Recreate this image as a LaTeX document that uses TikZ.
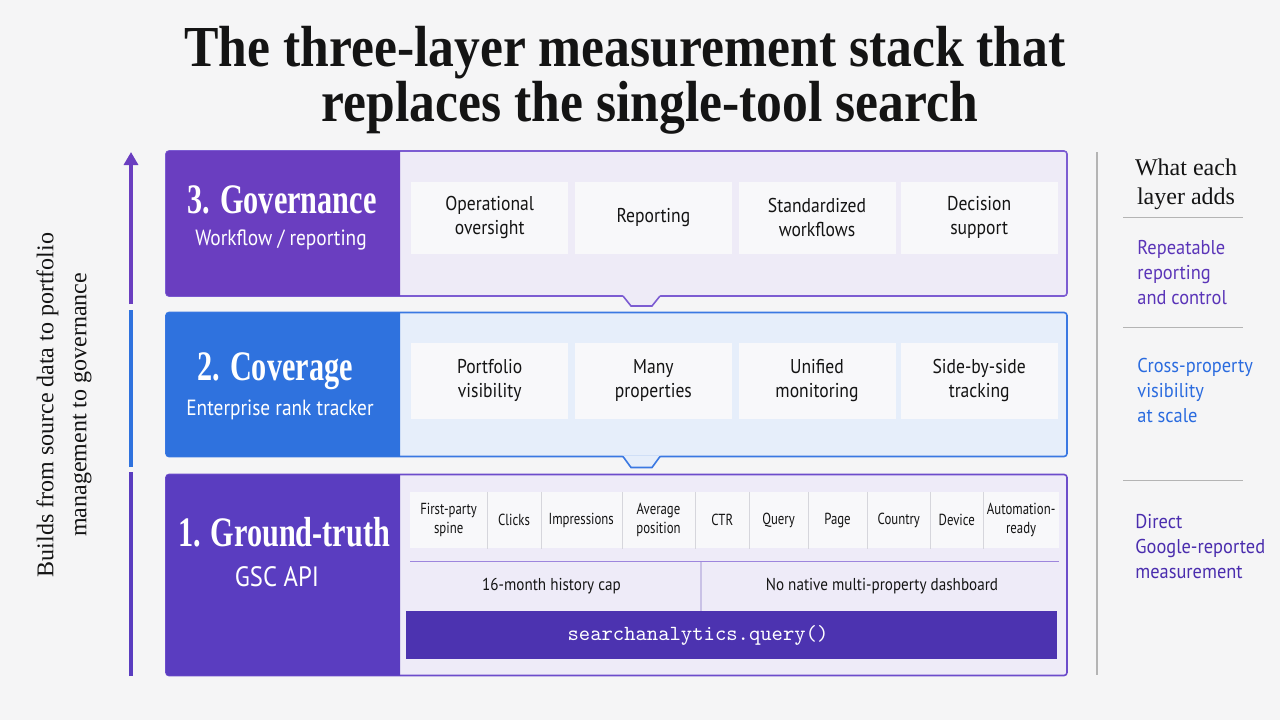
\documentclass[tikz,border=0pt]{standalone}
\usepackage{fontspec}
\setmainfont{Liberation Serif}
\newfontfamily\titlefont[FakeStretch=0.89]{Liberation Serif}
\newfontfamily\headfont[FakeStretch=0.72]{Liberation Serif}
\newfontfamily\uifont[FakeStretch=0.88]{PT Sans}
\newfontfamily\sideuifont[FakeStretch=0.92]{PT Sans}
\newfontfamily\cellfont[FakeStretch=0.8]{PT Sans}
\usetikzlibrary{arrows.meta,positioning,calc}

\definecolor{pagebg}{HTML}{F5F5F6}
\definecolor{inkcol}{HTML}{141414}
\definecolor{govcol}{HTML}{6A3EC0}
\definecolor{govbg}{HTML}{EEEBF7}
\definecolor{govline}{HTML}{7C5CD2}
\definecolor{covcol}{HTML}{2F72DE}
\definecolor{covbg}{HTML}{E6EEFA}
\definecolor{covline}{HTML}{3A78E2}
\definecolor{gtcol}{HTML}{5A3DC0}
\definecolor{gtbg}{HTML}{EEEBF8}
\definecolor{gtline}{HTML}{6C4CCB}
\definecolor{barcol}{HTML}{4C33B0}
\definecolor{cardbg}{HTML}{F8F8FA}
\definecolor{cellline}{HTML}{D6D6DC}
\definecolor{divline}{HTML}{C9C1E6}
\definecolor{sidegrey}{HTML}{B4B4B4}
\definecolor{addpurple}{HTML}{5A34B8}
\definecolor{addblue}{HTML}{2A6BDF}
\definecolor{addindigo}{HTML}{4A2DAE}

\tikzset{
  titletxt/.style={font=\titlefont\bfseries\fontsize{29}{34}\selectfont, text=inkcol, anchor=base, inner sep=0pt},
  headtxt/.style={font=\headfont\bfseries\fontsize{21}{24}\selectfont, text=white, anchor=base, inner sep=0pt},
  subtxt/.style={font=\uifont\fontsize{11}{13}\selectfont, text=white, anchor=base, inner sep=0pt},
  card/.style={fill=cardbg, inner sep=0pt, minimum width=78.5pt, align=center, text=inkcol, font=\uifont\fontsize{10}{12}\selectfont},
  cell/.style={fill=cardbg, inner sep=0pt, minimum height=28pt, align=center, text=inkcol, font=\cellfont\fontsize{8}{9.5}\selectfont},
  note/.style={font=\uifont\fontsize{8.6}{11}\selectfont, text=inkcol},
  addtxt/.style={font=\sideuifont\fontsize{10}{12.5}\selectfont, align=left, anchor=west, inner sep=0pt},
  sepline/.style={sidegrey, line width=0.6pt},
}

\begin{document}
\begin{tikzpicture}[x=0.5pt,y=-0.5pt]
\fill[pagebg] (0,0) rectangle (1280,720);
\useasboundingbox (0,0) rectangle (1280,720);

\node[titletxt] (title1) at (625,66) {The three-layer measurement stack that};
\node[titletxt] (title2) at (650,121) {replaces the single-tool search};

% the three layers
\foreach \yt/\yb/\hd/\bg/\ln in {151/296/govcol/govbg/govline, 312.5/456.5/covcol/covbg/covline, 474.5/675.5/gtcol/gtbg/gtline}{
  \fill[\bg, rounded corners=1.5pt] (166,\yt) rectangle (1067,\yb);
  \draw[\ln, line width=0.8pt, rounded corners=1.5pt] (166,\yt) rectangle (1067,\yb);
  \begin{scope}
    \clip (160,\yt-5) rectangle (400,\yb+5);
    \fill[\hd, rounded corners=1.5pt] (166,\yt) rectangle (410,\yb);
  \end{scope}
}

\fill[govbg] (622.5,294.8) -- (631,305.5) -- (652,305.5) -- (660.5,294.8) -- cycle;
\draw[govline, line width=0.8pt] (623,296) -- (631,306) -- (652,306) -- (660,296);
\fill[covbg] (622.5,455.3) -- (631,467) -- (652,467) -- (660.5,455.3) -- cycle;
\draw[covline, line width=0.8pt] (623,456.5) -- (631,467.5) -- (652,467.5) -- (660,456.5);

\node[headtxt] (govhd) at (282,213) {3. Governance};
\node[subtxt] (govsub) at (281,245) {Workflow / reporting};
\node[headtxt] (covhd) at (275,380) {2. Coverage};
\node[subtxt] (covsub) at (280,415.7) {Enterprise rank tracker};
\node[headtxt] (gthd) at (284,546.7) {1. Ground-truth};
\node[subtxt, font=\uifont\fontsize{14}{16}\selectfont] (gtsub) at (277,586.7) {GSC API};

\foreach \x/\t [count=\i] in {489.7/{Operational\\oversight}, 653.4/Reporting, 817/{Standardized\\workflows}, 979.2/{Decision\\support}}
  \node[card, minimum height=36pt] (gov\i) at (\x,217.8) {\t};
\foreach \x/\t [count=\i] in {489.7/{Portfolio\\visibility}, 653.4/{Many\\properties}, 817/{Unified\\monitoring}, 979.2/{Side-by-side\\tracking}}
  \node[card, minimum height=38pt] (cov\i) at (\x,380.7) {\t};

\foreach \l/\r/\t [count=\i] in {410/487.3/{First-party\\spine}, 487.3/540.7/Clicks, 540.7/621.7/Impressions, 621.7/695.3/{Average\\position}, 695.3/749.3/CTR, 749.3/807.7/Query, 807.7/867.3/Page, 867.3/930.3/Country, 930.3/983.3/Device, 983.3/1059/{Automation-\\ready}}
  \node[cell, minimum width={(\r-\l)/2*1pt}] (m\i) at ({(\l+\r)/2},520.3) {\t};
\foreach \i in {1,...,9}
  \draw[cellline, line width=0.5pt] (m\i.north east) -- (m\i.south east);

\draw[govline!75, line width=0.6pt] (410,561.7) -- (1059,561.7);
\draw[divline, line width=0.6pt] (701,561.7) -- (701,611);
\node[note] (histcap) at (551.5,586) {16-month history cap};
\node[note] (nodash) at (882,586) {No native multi-property dashboard};

\node[fill=barcol, inner sep=0pt, minimum width=325.6pt, minimum height=24pt] (apibar) at (731.6,635) {};
\node[font=\ttfamily\fontsize{10.8}{12}\selectfont, text=white] (apitxt) at (698,635) {searchanalytics.query()};

% build-up arrow
\coordinate (ax1) at (131,676);
\coordinate (ax2) at (131,472);
\coordinate (bx1) at (131,467);
\coordinate (bx2) at (131,310);
\coordinate (cx1) at (131,304);
\coordinate (tip) at (131,152);
\draw[gtcol, line width=1.6pt] (ax1) -- (ax2);
\draw[covcol, line width=1.6pt] (bx1) -- (bx2);
\draw[govcol, line width=1.6pt, -{Triangle[length=6.5pt,width=7pt]}] (cx1) -- (tip);
\node[rotate=90, align=center, font=\fontsize{12}{16.5}\selectfont, text=inkcol] (buildlbl) at (64,405) {Builds from source data to portfolio\\management to governance};

% right column
\draw[sepline] (1097,152) -- (1097,675);
\node[align=center, font=\fontsize{12}{14.5}\selectfont, text=inkcol] (addshd) at (1186,184) {What each\\layer adds};
\draw[sepline] (1123,217.7) -- (1243,217.7);
\draw[sepline] (1123,327.7) -- (1243,327.7);
\draw[sepline] (1123,480.7) -- (1243,480.7);
\node[addtxt, text=addpurple] (addgov) at (1137,273) {Repeatable\\reporting\\and control};
\node[addtxt, text=addblue] (addcov) at (1137,390) {Cross-property\\visibility\\at scale};
\node[addtxt, text=addindigo] (addgt) at (1135,547) {Direct\\Google-reported\\measurement};
\end{tikzpicture}
\end{document}
